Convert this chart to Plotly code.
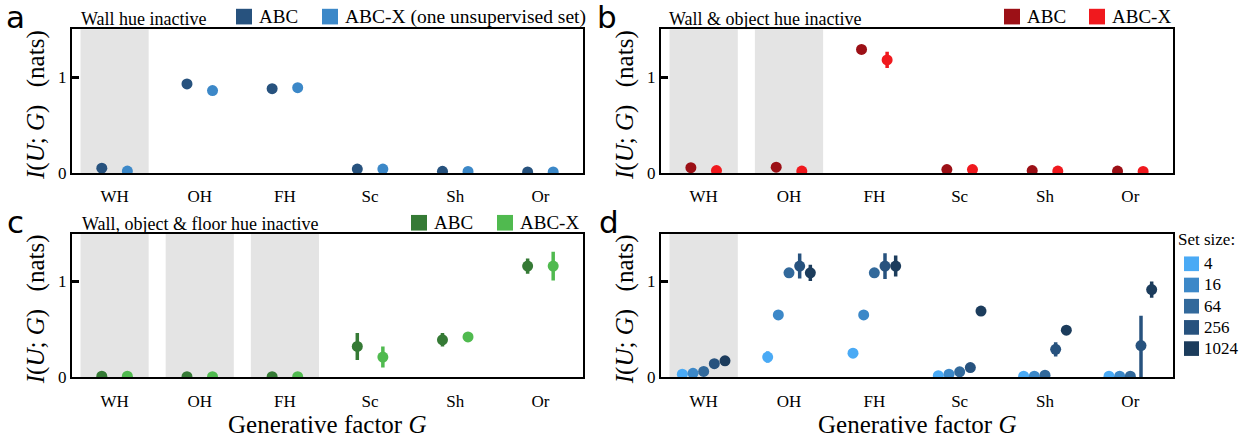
import plotly.graph_objects as go

W, H = 1240, 435

factors = ["WH", "OH", "FH", "Sc", "Sh", "Or"]

# panel a: wall hue inactive
a_abc = [0.05, 0.93, 0.88, 0.04, 0.017, 0.01]
a_abc_err = [0.01, 0.02, 0.02, 0.01, 0.005, 0.005]
a_abcx = [0.02, 0.86, 0.89, 0.04, 0.015, 0.01]
a_abcx_err = [0.005, 0.02, 0.02, 0.01, 0.005, 0.005]
a_inactive = [0]

# panel b: wall & object hue inactive
b_abc = [0.055, 0.06, 1.29, 0.035, 0.025, 0.02]
b_abc_err = [0.01, 0.01, 0.03, 0.01, 0.005, 0.005]
b_abcx = [0.025, 0.02, 1.18, 0.035, 0.02, 0.015]
b_abcx_err = [0.005, 0.005, 0.085, 0.01, 0.005, 0.005]
b_inactive = [0, 1]

# panel c: wall, object & floor hue inactive
c_abc = [0.01, 0.005, 0.005, 0.32, 0.39, 1.16]
c_abc_err = [0.005, 0.005, 0.005, 0.14, 0.07, 0.08]
c_abcx = [0.01, 0.005, 0.005, 0.21, 0.42, 1.16]
c_abcx_err = [0.005, 0.005, 0.005, 0.11, 0.02, 0.15]
c_inactive = [0, 1, 2]

# panel d: set size sweep
set_sizes = ["4", "16", "64", "256", "1024"]
d_s4 = [0.03, 0.21, 0.25, 0.015, 0.01, 0.01]
d_s4_err = [0.005, 0.06, 0.05, 0.005, 0.005, 0.005]
d_s16 = [0.04, 0.65, 0.65, 0.03, 0.01, 0.01]
d_s16_err = [0.005, 0.02, 0.02, 0.005, 0.005, 0.005]
d_s64 = [0.06, 1.09, 1.09, 0.055, 0.02, 0.01]
d_s64_err = [0.01, 0.03, 0.03, 0.01, 0.005, 0.005]
d_s256 = [0.14, 1.16, 1.16, 0.10, 0.29, 0.33]
d_s256_err_plus = [0.02, 0.13, 0.135, 0.02, 0.075, 0.31]
d_s256_err_minus = [0.02, 0.13, 0.135, 0.02, 0.075, 0.33]
d_s1024 = [0.17, 1.09, 1.16, 0.69, 0.49, 0.915]
d_s1024_err = [0.02, 0.085, 0.11, 0.02, 0.02, 0.085]
d_inactive = [0]

col_a = ["#27527e", "#3c88c8"]
col_b = ["#9c1016", "#f0191e"]
col_c = ["#357a35", "#50ba4f"]
col_d = ["#4aaaf5", "#3c88c8", "#32699b", "#27527e", "#1c3c5c"]

SERIF = "Liberation Serif"
SANS = "DejaVu Sans"


def px(x):
    return x / W


def py(y):
    return 1 - y / H


# panel pixel boxes (left, right, top, bottom)
boxes = {
    1: (72, 583, 30, 177),
    2: (661, 1173, 30, 177),
    3: (72, 583, 239, 386),
    4: (661, 1173, 239, 386),
}

fig = go.Figure()


def add_series(n, vals, offset, color, err, errm=None):
    xs = [i + offset for i in range(len(vals))]
    ey = dict(type="data", array=err, color=color, thickness=3.5, width=0, visible=True)
    if errm is not None:
        ey["symmetric"] = False
        ey["arrayminus"] = errm
    fig.add_trace(go.Scatter(
        x=xs, y=vals, mode="markers",
        marker=dict(size=11, color=color, line=dict(width=0)),
        error_y=ey,
        xaxis="x" if n == 1 else f"x{n}",
        yaxis="y" if n == 1 else f"y{n}",
        showlegend=False,
    ))


add_series(1, a_abc, -0.15, col_a[0], a_abc_err)
add_series(1, a_abcx, 0.15, col_a[1], a_abcx_err)
add_series(2, b_abc, -0.15, col_b[0], b_abc_err)
add_series(2, b_abcx, 0.15, col_b[1], b_abcx_err)
add_series(3, c_abc, -0.15, col_c[0], c_abc_err)
add_series(3, c_abcx, 0.15, col_c[1], c_abcx_err)
d_vals = [d_s4, d_s16, d_s64, d_s256, d_s1024]
d_errs = [d_s4_err, d_s16_err, d_s64_err, d_s256_err_plus, d_s1024_err]
d_offs = [-0.25, -0.125, 0.0, 0.125, 0.25]
for k in range(5):
    add_series(4, d_vals[k], d_offs[k], col_d[k], d_errs[k],
               d_s256_err_minus if k == 3 else None)

layout = dict(
    width=W, height=H, autosize=False,
    margin=dict(l=0, r=0, t=0, b=0),
    paper_bgcolor="white", plot_bgcolor="white",
    font=dict(family=SERIF, size=17, color="black"),
    shapes=[], annotations=[],
)

for n, (l, r, t, b) in boxes.items():
    xa = "xaxis" if n == 1 else f"xaxis{n}"
    ya = "yaxis" if n == 1 else f"yaxis{n}"
    xr = "x" if n == 1 else f"x{n}"
    yr = "y" if n == 1 else f"y{n}"
    layout[xa] = dict(
        domain=[px(l), px(r)], range=[-0.5, 5.5], anchor=yr,
        tickvals=list(range(len(factors))), ticktext=factors,
        ticks="", showgrid=False, zeroline=False, ticklabelstandoff=7,
        showline=True, mirror=True, linecolor="black", linewidth=2,
        tickfont=dict(family=SERIF, size=17), fixedrange=True,
    )
    layout[ya] = dict(
        domain=[py(b), py(t)], range=[0, 1.5], anchor=xr,
        tickvals=[0, 1], ticktext=["0", "1"],
        ticks="inside", ticklen=7, tickwidth=2.5, tickcolor="black",
        showgrid=False, zeroline=False,
        showline=True, mirror=True, linecolor="black", linewidth=2,
        tickfont=dict(family=SERIF, size=17), fixedrange=True,
    )
    # y label
    layout["annotations"].append(dict(
        x=px(l - 36), y=py((t + b) / 2 + 4), xref="paper", yref="paper",
        text="<i>I</i>(<i>U</i>; <i>G</i>)\u2002\u2009(nats)", textangle=-90,
        showarrow=False, xanchor="center", yanchor="middle",
        font=dict(family=SERIF, size=25),
    ))

inactive = {1: a_inactive, 2: b_inactive, 3: c_inactive, 4: d_inactive}
for n, lst in inactive.items():
    xr = "x" if n == 1 else f"x{n}"
    yr = "y domain" if n == 1 else f"y{n} domain"
    for i in lst:
        layout["shapes"].append(dict(
            type="rect", xref=xr, yref=yr, x0=i - 0.4, x1=i + 0.4, y0=0, y1=1,
            fillcolor="#e4e4e4", line=dict(width=0), layer="below",
        ))

# panel letters
for letter, (x, y) in {"a": (15, 17), "b": (607, 17), "c": (15, 227), "d": (609, 227)}.items():
    layout["annotations"].append(dict(
        x=px(x), y=py(y), xref="paper", yref="paper", text=letter,
        showarrow=False, xanchor="center", yanchor="middle",
        font=dict(family=SANS, size=31, color="black"),
    ))

# panel titles
titles = [("Wall hue inactive", 79, 19), ("Wall & object hue inactive", 667, 19),
          ("Wall, object & floor hue inactive", 80, 229)]
for txt, x, y in titles:
    layout["annotations"].append(dict(
        x=px(x), y=py(y), xref="paper", yref="paper", text=txt,
        showarrow=False, xanchor="left", yanchor="middle",
        font=dict(family=SERIF, size=18),
    ))


def legend_item(sx, sy, color, label, size=16, fs=19, gap=5):
    layout["shapes"].append(dict(
        type="rect", xref="paper", yref="paper",
        x0=px(sx), x1=px(sx + size), y0=py(sy + size / 2), y1=py(sy - size / 2),
        fillcolor=color, line=dict(width=0),
    ))
    layout["annotations"].append(dict(
        x=px(sx + size + gap), y=py(sy), xref="paper", yref="paper", text=label,
        showarrow=False, xanchor="left", yanchor="middle",
        font=dict(family=SERIF, size=fs),
    ))


legend_item(236, 17, col_a[0], "ABC")
legend_item(322, 17, col_a[1], "ABC-X (one unsupervised set)", fs=19.5)
legend_item(1004, 17, col_b[0], "ABC")
legend_item(1089, 17, col_b[1], "ABC-X")
legend_item(411, 228, col_c[0], "ABC")
legend_item(497, 228, col_c[1], "ABC-X")

layout["annotations"].append(dict(
    x=px(1176), y=py(245), xref="paper", yref="paper", text="Set size:",
    showarrow=False, xanchor="left", yanchor="middle",
    font=dict(family=SERIF, size=17),
))
for k, lab in enumerate(set_sizes):
    legend_item(1184, 270 + 21.7 * k, col_d[k], lab, size=15, fs=17, gap=3)

# x-axis titles
for cx in [(72 + 583) / 2, (661 + 1173) / 2]:
    layout["annotations"].append(dict(
        x=px(cx), y=py(434), xref="paper", yref="paper",
        text="Generative factor <i>G</i>", showarrow=False,
        xanchor="center", yanchor="middle", font=dict(family=SERIF, size=25),
    ))

fig.update_layout(**layout)
fig.write_html("out.html", config={"displayModeBar": False},
               post_script="document.body.style.margin='0';")
